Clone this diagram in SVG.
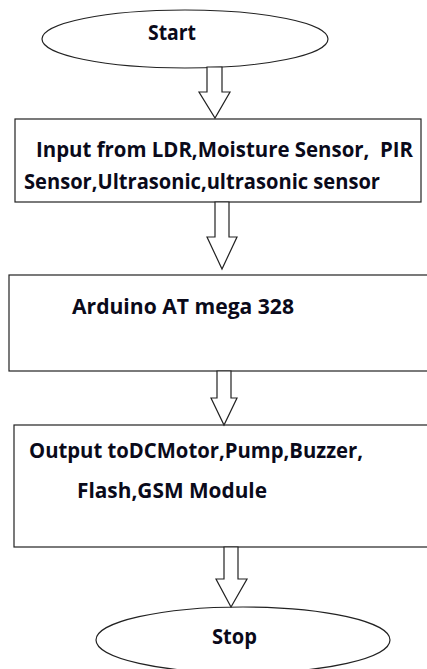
<svg xmlns="http://www.w3.org/2000/svg" width="427" height="669" viewBox="0 0 427 669">
<style>
.s{fill:#fff;stroke:#222;stroke-width:1.2}
.t{font-family:"Open Sans","Liberation Sans",sans-serif;font-weight:bold;font-size:20.5px;fill:#0a0a1a;white-space:pre}
.a{fill:#fff;stroke:#222;stroke-width:1.2;stroke-linejoin:miter}
</style>
<rect width="427" height="669" fill="#fff"/>
<g id="start">
<ellipse class="s" cx="185" cy="39" rx="143" ry="29"/>
<text class="t" x="148" y="40" textLength="48" lengthAdjust="spacingAndGlyphs">Start</text>
</g>
<g id="input">
<rect class="s" x="15" y="119" width="406" height="83"/>
<text class="t" x="36" y="157" textLength="377" lengthAdjust="spacingAndGlyphs" xml:space="preserve">Input from LDR,Moisture Sensor,  PIR</text>
<text class="t" x="24" y="189" textLength="356" lengthAdjust="spacingAndGlyphs">Sensor,Ultrasonic,ultrasonic sensor</text>
</g>
<g id="arduino">
<rect class="s" x="9" y="275" width="420" height="96"/>
<text class="t" x="72" y="314" textLength="222" lengthAdjust="spacingAndGlyphs">Arduino AT mega 328</text>
</g>
<g id="output">
<rect class="s" x="14" y="425" width="415" height="122"/>
<text class="t" x="29" y="458" textLength="334" lengthAdjust="spacingAndGlyphs">Output toDCMotor,Pump,Buzzer,</text>
<text class="t" x="77" y="498" textLength="190" lengthAdjust="spacingAndGlyphs">Flash,GSM Module</text>
</g>
<g id="stop">
<ellipse class="s" cx="243" cy="640" rx="147" ry="33"/>
<text class="t" x="212" y="644" textLength="45" lengthAdjust="spacingAndGlyphs">Stop</text>
</g>
<g id="connectors">
<polygon class="a" points="207,67 222,67 222,92 230,92 215,118 199,92 207,92"/>
<polygon class="a" points="215,202 229,202 229,237 237,237 222,269 207,237 215,237"/>
<polygon class="a" points="217,371 231,371 231,398 237,398 224,425 211,398 217,398"/>
<polygon class="a" points="224,547 238,547 238,579 247,579 231,607 216,579 224,579"/>
</g>
</svg>
